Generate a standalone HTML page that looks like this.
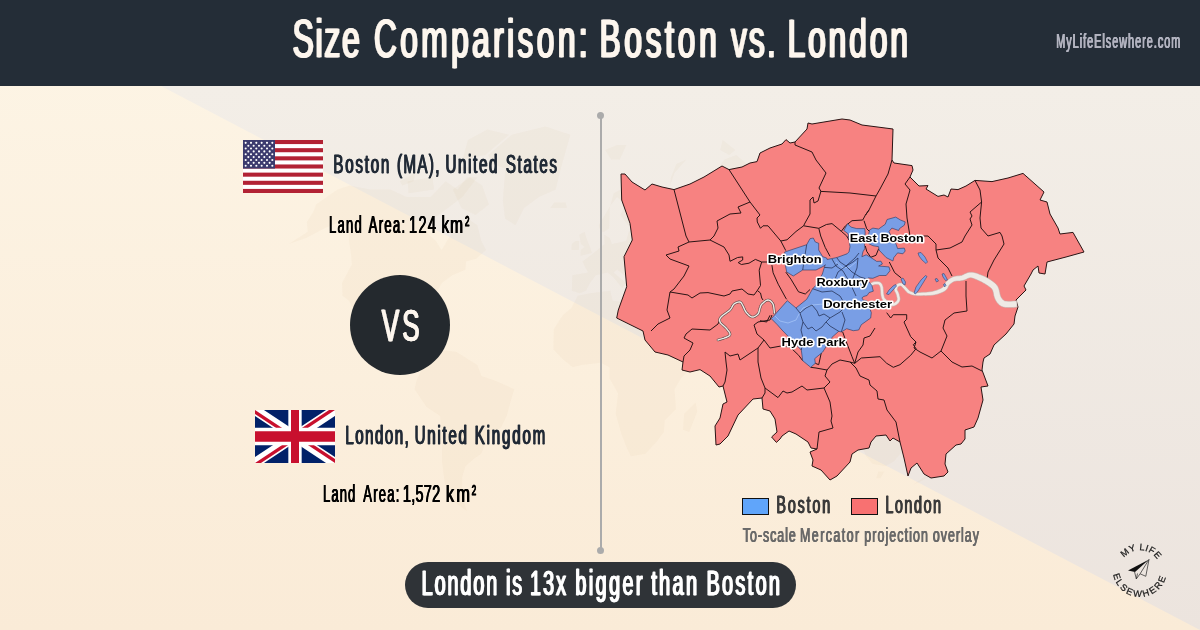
<!DOCTYPE html>
<html><head><meta charset="utf-8"><title>Size Comparison: Boston vs. London</title>
<style>
html,body{margin:0;padding:0;background:#fdf0e2;}
body{width:1200px;height:630px;overflow:hidden;font-family:"Liberation Sans",sans-serif;}
svg{display:block;will-change:transform;}
text{font-family:"Liberation Sans",sans-serif;}
.ml{font-weight:bold;font-size:11.8px;fill:#000;stroke:#fff;stroke-width:3px;paint-order:stroke;stroke-linejoin:round}
</style></head><body>
<svg width="1200" height="630" viewBox="0 0 1200 630">
<defs>
<linearGradient id="gc" x1="0" y1="0" x2="0" y2="1"><stop offset="0" stop-color="#fdf5e6"/><stop offset="1" stop-color="#faebd7"/></linearGradient>
<linearGradient id="gg" gradientUnits="userSpaceOnUse" x1="0" y1="86" x2="0" y2="630"><stop offset="0" stop-color="#f3eee7"/><stop offset="1" stop-color="#ece4de"/></linearGradient>
</defs>
<rect x="0" y="0" width="1200" height="630" fill="url(#gc)"/>
<polygon points="161,86 1200,86 1200,630" fill="url(#gg)"/>
<g fill="#c9a27a" fill-opacity="0.06" stroke="none"><polygon points="316,204.5 337.4,189.4 349.8,185.4 370.1,189.4 390.4,189.4 406.6,197.1 430.5,197.1 445.6,181.3 457.5,189.4 467,177.2 477.5,177.2 462.4,197.1 443.4,211.6 428.7,221.9 425.9,231.7 436,241 441.6,250 446.9,241 456.6,225.2 467.7,218.5 477.4,225.2 481.3,241 486.1,250 476.3,258.7 466,261.5 465.5,269.8 452.3,275.2 442,283.1 434.5,295.8 421.9,305.6 421.1,319.9 417.8,315.2 415,308 402,310.4 393.6,310.4 385.7,317.5 384,326.8 387.2,333.7 395.7,333.7 398.5,329.1 404.9,329.1 401.2,340.5 409.5,342.8 410.7,353.9 419.2,356.2 423.5,358.4 416.9,360.6 408.4,356.2 402.7,347.3 392.4,342.8 384.1,340.5 366.2,331.4 365.8,322.2 356.9,324.5 355.4,312.8 351.3,305.6 348.9,300.7 342.5,295.8 342,283.1 351.9,264.3 350.8,253 349,241 348.7,228.5 339.5,221.9 324.2,228.5 306.2,238 288.7,244.1 307.7,231.7 306.8,221.9 313.5,211.6"/><polygon points="470,177.2 482.2,185.4 488.9,204.5 475.6,215.1 461.4,208.1 452.8,189.4"/><polygon points="407.6,181.3 432.5,177.2 434.1,189.4 408.6,193.2"/><polygon points="400,181.3 415.3,172.9 413.7,181.3 402.2,185.4"/><polygon points="462.6,159.6 485.5,154.9 509.1,134.8 487.3,129.4 467.9,140"/><polygon points="449.8,168.6 471.1,166.4 472.3,170.8 454.3,171.6"/><polygon points="488.3,154.9 511.7,134.8 545.4,126.6 570.4,134.8 560.8,168.6 555.7,189.4 539,197.1 524.1,208.1 515.5,225.2 505,218.5 502.9,200.8 505.3,168.6 492.2,164.1"/><polygon points="423.5,358.4 434.8,349.5 456.2,351.7 477.3,365 481.5,376 494.6,380.4 514.2,389.2 510.3,402.5 506.6,416 501,427.5 488.9,434.5 481.2,453.7 473.9,458.7 465.4,466.3 462.2,476.8 461.9,496.2 466.8,511 454.6,502 445.1,484.9 442,461.2 442.1,444 440.3,416 426.6,407 414.6,389.2 416.5,380.4 420.8,371.6"/><polygon points="553.5,342.8 553.8,329.1 562.7,315.2 571.3,308 577.7,295.8 590,293.3 610.3,290.8 612.7,300.7 631.4,303.2 641.7,303.2 656.4,305.6 661.2,312.8 668.7,329.1 682.7,349.5 699.9,349.5 696.1,362.8 681.1,378.2 674.5,389.2 675.9,409.2 664.6,420.6 663.9,432.1 656.8,441.6 645.4,453.7 630.9,456.2 627.2,448.8 621.6,434.5 615.7,413.7 618.1,393.6 609.5,378.2 609.5,367.2 600.8,362.8 581.3,365 572.7,367.2 561.9,358.4 553.4,349.5"/><polygon points="695.6,402.5 697.2,411.5 689.2,432.1 683.1,429.8 684.2,413.7"/><polygon points="571.8,290.8 572.3,275.2 588,272.5 582.4,261.5 593.7,253 604.6,244.1 604.2,234.8 609.8,238 611.9,244.1 626.2,241 628.8,231.7 638.5,225.2 628.1,225.2 620.3,215.1 625.9,204.5 617.1,197.1 611.2,204.5 598.7,225.2 600.6,231.7 604.1,231.7 609.2,228.5 609.8,208.1 613.7,193.2 628.5,185.4 639.9,189.4 656.1,200.8 660.2,197.1 676.7,193.2 697.2,193.2 701,181.3 710,177.2 724.5,159.6 736.3,154.9 757.3,172.9 790.2,185.4 800,177.2 839.5,189.4 855.1,189.4 877.1,197.1 886.7,208.1 882.3,218.5 872.5,225.2 881,238 879.3,250 866,234.8 849.9,225.2 838.3,228.5 834.6,241 849.5,247.1 857.1,261.5 849.6,275.2 846,283.1 852.7,293.3 847.8,295.8 841.1,285.7 832,283.1 828.1,288.2 837.3,290.8 837.3,300.7 844.2,308 841.3,319.9 832.1,326.8 821.9,329.1 816.3,333.7 824.7,347.3 816.9,356.2 807.5,347.3 806.3,358.4 815.6,371.6 809,369.4 802,358.4 800.2,340.5 791.3,338.3 783.2,326.8 775.1,329.1 761.9,342.8 762.8,353.9 756.5,358.4 746.6,340.5 743.2,329.1 731.5,319.9 710,317.5 696.8,312.8 690,308 697.7,319.9 708.2,319.9 715.3,326.8 707.8,338.3 686.9,347.3 682.6,347.3 673,329.1 663.3,312.8 660.6,305.6 663.3,293.3 646.8,290.8 642,283.1 636.4,288.2 634.6,290.8 630,283.1 627.6,277.8 617.2,269.8 613.5,272.5 626,283.1 622.3,288.2 613.7,277.8 607.6,272.5 595.9,275.2 590,283.1 585.9,290.8 579.8,293.3"/><polygon points="580.6,255.8 591.9,253 590,247.1 586.4,238 584.7,231.7 579.3,234.8 580.9,244.1 584.5,247.1 580.7,250"/><polygon points="571.5,250 578.9,250 579.1,241 575.5,241 571.7,244.1"/><polygon points="550.4,208.1 566.9,208.1 565.7,202.6 554.3,202.6"/><polygon points="605.1,150.1 617,145.1 626.4,145.1 619.7,159.6 611.2,159.6"/><polygon points="670.1,185.4 674.4,172.9 686.3,159.6 676.3,164.1 671,177.2"/><polygon points="720.2,150.1 722.7,140 735.3,150.1 729.3,154.9"/><polygon points="790.1,168.6 798.6,164.1 809.1,168.6 800.2,172.9"/><polygon points="832.1,425.2 824.1,453.7 831.4,456.2 845.5,451.3 861.9,446.4 866.2,456.2 872.5,463.8 885.3,466.3 894.1,461.2 908.7,444 913,432.1 901.7,418.3 896.4,400.3 892,413.7 883.1,402.5 872.3,402.5 867.1,409.2 851.3,413.7"/><polygon points="858.9,303.2 867.2,298.3 876.4,295.8 872,283.1 867.3,275.2 873.6,272.5 864.2,269.8 868,283.1 867,293.3 859,298.3"/><polygon points="795.9,365 806.9,373.8 815.4,387 819.6,389.2 813.5,376 802.4,367.2"/><polygon points="826.5,373.8 843.2,360.6 848.2,373.8 841.4,384.8 828.5,382.6"/><polygon points="874.2,378.2 895.7,382.6 914.6,391.4 907.5,398.1 894.8,395.8 878.3,384.8"/><polygon points="817.4,389.2 836.6,392.5 836.5,394.7 819.3,392.5"/><polygon points="846.6,336 852.4,345 860.3,358.4 854,360.6 848.6,349.5"/><polygon points="943.9,456.2 949.2,463.8 938,471.5 924.4,479.5 912.7,484.9 924.4,476.8 934.1,471.5"/><polygon points="849.3,244.1 859.3,255.8 866.3,267.1 860.9,261.5"/><polygon points="762.9,355 767.5,360.6 764.3,362.8 762.6,358.4"/><polygon points="845.5,319.9 848.1,322.2 845.9,326.8 844.1,323.4"/><polygon points="878.4,471.5 884.3,471.5 880.3,478.2 876.3,478.2"/></g>
<rect x="0" y="0" width="1200" height="86" fill="#242d37"/>
<text transform="translate(291.78 57) scale(0.58 1)" font-size="54.5" font-weight="normal" fill="#fdf6ee" stroke="#fdf6ee" stroke-width="0.5" textLength="115.50" lengthAdjust="spacing" >Size</text><text transform="translate(292.63 57) scale(0.58 1)" font-size="54.5" font-weight="normal" fill="#fdf6ee" stroke="#fdf6ee" stroke-width="0.5" textLength="115.50" lengthAdjust="spacing" >Size</text><text transform="translate(293.48 57) scale(0.58 1)" font-size="54.5" font-weight="normal" fill="#fdf6ee" stroke="#fdf6ee" stroke-width="0.5" textLength="115.50" lengthAdjust="spacing" >Size</text><text transform="translate(373.13 57) scale(0.58 1)" font-size="54.5" font-weight="normal" fill="#fdf6ee" stroke="#fdf6ee" stroke-width="0.5" textLength="368.31" lengthAdjust="spacing" >Comparison:</text><text transform="translate(373.98 57) scale(0.58 1)" font-size="54.5" font-weight="normal" fill="#fdf6ee" stroke="#fdf6ee" stroke-width="0.5" textLength="368.31" lengthAdjust="spacing" >Comparison:</text><text transform="translate(374.83 57) scale(0.58 1)" font-size="54.5" font-weight="normal" fill="#fdf6ee" stroke="#fdf6ee" stroke-width="0.5" textLength="368.31" lengthAdjust="spacing" >Comparison:</text><text transform="translate(598.68 57) scale(0.58 1)" font-size="54.5" font-weight="normal" fill="#fdf6ee" stroke="#fdf6ee" stroke-width="0.5" textLength="201.93" lengthAdjust="spacing" >Boston</text><text transform="translate(599.53 57) scale(0.58 1)" font-size="54.5" font-weight="normal" fill="#fdf6ee" stroke="#fdf6ee" stroke-width="0.5" textLength="201.93" lengthAdjust="spacing" >Boston</text><text transform="translate(600.38 57) scale(0.58 1)" font-size="54.5" font-weight="normal" fill="#fdf6ee" stroke="#fdf6ee" stroke-width="0.5" textLength="201.93" lengthAdjust="spacing" >Boston</text><text transform="translate(730.13 57) scale(0.58 1)" font-size="54.5" font-weight="normal" fill="#fdf6ee" stroke="#fdf6ee" stroke-width="0.5" textLength="77.24" lengthAdjust="spacing" >vs.</text><text transform="translate(730.98 57) scale(0.58 1)" font-size="54.5" font-weight="normal" fill="#fdf6ee" stroke="#fdf6ee" stroke-width="0.5" textLength="77.24" lengthAdjust="spacing" >vs.</text><text transform="translate(731.83 57) scale(0.58 1)" font-size="54.5" font-weight="normal" fill="#fdf6ee" stroke="#fdf6ee" stroke-width="0.5" textLength="77.24" lengthAdjust="spacing" >vs.</text><text transform="translate(786.68 57) scale(0.58 1)" font-size="54.5" font-weight="normal" fill="#fdf6ee" stroke="#fdf6ee" stroke-width="0.5" textLength="207.62" lengthAdjust="spacing" >London</text><text transform="translate(787.53 57) scale(0.58 1)" font-size="54.5" font-weight="normal" fill="#fdf6ee" stroke="#fdf6ee" stroke-width="0.5" textLength="207.62" lengthAdjust="spacing" >London</text><text transform="translate(788.38 57) scale(0.58 1)" font-size="54.5" font-weight="normal" fill="#fdf6ee" stroke="#fdf6ee" stroke-width="0.5" textLength="207.62" lengthAdjust="spacing" >London</text>
<text transform="translate(1055.92 48) scale(0.55 1)" font-size="19.7" font-weight="normal" fill="#b3b4c0" stroke="#b3b4c0" stroke-width="0.2" textLength="225.67" lengthAdjust="spacing" >MyLifeElsewhere.com</text><text transform="translate(1056.22 48) scale(0.55 1)" font-size="19.7" font-weight="normal" fill="#b3b4c0" stroke="#b3b4c0" stroke-width="0.2" textLength="225.67" lengthAdjust="spacing" >MyLifeElsewhere.com</text><text transform="translate(1056.52 48) scale(0.55 1)" font-size="19.7" font-weight="normal" fill="#b3b4c0" stroke="#b3b4c0" stroke-width="0.2" textLength="225.67" lengthAdjust="spacing" >MyLifeElsewhere.com</text>

<!-- divider -->
<rect x="600" y="115" width="2" height="436" fill="#ababab"/>
<circle cx="600.5" cy="115.5" r="3.5" fill="#ababab"/>
<circle cx="600.5" cy="550.5" r="3.5" fill="#ababab"/>

<!-- left -->
<g transform="translate(243,140)"><rect width="80" height="53" fill="#fff"/><rect y="0.000" width="80" height="4.077" fill="#b22234"/><rect y="8.154" width="80" height="4.077" fill="#b22234"/><rect y="16.308" width="80" height="4.077" fill="#b22234"/><rect y="24.462" width="80" height="4.077" fill="#b22234"/><rect y="32.615" width="80" height="4.077" fill="#b22234"/><rect y="40.769" width="80" height="4.077" fill="#b22234"/><rect y="48.923" width="80" height="4.077" fill="#b22234"/><rect width="32" height="28.538" fill="#3c3b6e"/><circle cx="2.67" cy="2.85" r="1.05" fill="#fff"/><circle cx="8.00" cy="2.85" r="1.05" fill="#fff"/><circle cx="13.33" cy="2.85" r="1.05" fill="#fff"/><circle cx="18.67" cy="2.85" r="1.05" fill="#fff"/><circle cx="24.00" cy="2.85" r="1.05" fill="#fff"/><circle cx="29.33" cy="2.85" r="1.05" fill="#fff"/><circle cx="5.33" cy="5.71" r="1.05" fill="#fff"/><circle cx="10.67" cy="5.71" r="1.05" fill="#fff"/><circle cx="16.00" cy="5.71" r="1.05" fill="#fff"/><circle cx="21.33" cy="5.71" r="1.05" fill="#fff"/><circle cx="26.67" cy="5.71" r="1.05" fill="#fff"/><circle cx="2.67" cy="8.56" r="1.05" fill="#fff"/><circle cx="8.00" cy="8.56" r="1.05" fill="#fff"/><circle cx="13.33" cy="8.56" r="1.05" fill="#fff"/><circle cx="18.67" cy="8.56" r="1.05" fill="#fff"/><circle cx="24.00" cy="8.56" r="1.05" fill="#fff"/><circle cx="29.33" cy="8.56" r="1.05" fill="#fff"/><circle cx="5.33" cy="11.42" r="1.05" fill="#fff"/><circle cx="10.67" cy="11.42" r="1.05" fill="#fff"/><circle cx="16.00" cy="11.42" r="1.05" fill="#fff"/><circle cx="21.33" cy="11.42" r="1.05" fill="#fff"/><circle cx="26.67" cy="11.42" r="1.05" fill="#fff"/><circle cx="2.67" cy="14.27" r="1.05" fill="#fff"/><circle cx="8.00" cy="14.27" r="1.05" fill="#fff"/><circle cx="13.33" cy="14.27" r="1.05" fill="#fff"/><circle cx="18.67" cy="14.27" r="1.05" fill="#fff"/><circle cx="24.00" cy="14.27" r="1.05" fill="#fff"/><circle cx="29.33" cy="14.27" r="1.05" fill="#fff"/><circle cx="5.33" cy="17.12" r="1.05" fill="#fff"/><circle cx="10.67" cy="17.12" r="1.05" fill="#fff"/><circle cx="16.00" cy="17.12" r="1.05" fill="#fff"/><circle cx="21.33" cy="17.12" r="1.05" fill="#fff"/><circle cx="26.67" cy="17.12" r="1.05" fill="#fff"/><circle cx="2.67" cy="19.98" r="1.05" fill="#fff"/><circle cx="8.00" cy="19.98" r="1.05" fill="#fff"/><circle cx="13.33" cy="19.98" r="1.05" fill="#fff"/><circle cx="18.67" cy="19.98" r="1.05" fill="#fff"/><circle cx="24.00" cy="19.98" r="1.05" fill="#fff"/><circle cx="29.33" cy="19.98" r="1.05" fill="#fff"/><circle cx="5.33" cy="22.83" r="1.05" fill="#fff"/><circle cx="10.67" cy="22.83" r="1.05" fill="#fff"/><circle cx="16.00" cy="22.83" r="1.05" fill="#fff"/><circle cx="21.33" cy="22.83" r="1.05" fill="#fff"/><circle cx="26.67" cy="22.83" r="1.05" fill="#fff"/><circle cx="2.67" cy="25.68" r="1.05" fill="#fff"/><circle cx="8.00" cy="25.68" r="1.05" fill="#fff"/><circle cx="13.33" cy="25.68" r="1.05" fill="#fff"/><circle cx="18.67" cy="25.68" r="1.05" fill="#fff"/><circle cx="24.00" cy="25.68" r="1.05" fill="#fff"/><circle cx="29.33" cy="25.68" r="1.05" fill="#fff"/></g>
<text transform="translate(332.89 172.7) scale(0.58 1)" font-size="26.1" font-weight="normal" fill="#222b37" stroke="#222b37" stroke-width="0.25" textLength="96.53" lengthAdjust="spacing" >Boston</text><text transform="translate(333.34 172.7) scale(0.58 1)" font-size="26.1" font-weight="normal" fill="#222b37" stroke="#222b37" stroke-width="0.25" textLength="96.53" lengthAdjust="spacing" >Boston</text><text transform="translate(333.79 172.7) scale(0.58 1)" font-size="26.1" font-weight="normal" fill="#222b37" stroke="#222b37" stroke-width="0.25" textLength="96.53" lengthAdjust="spacing" >Boston</text><text transform="translate(396.56 172.7) scale(0.58 1)" font-size="26.1" font-weight="normal" fill="#222b37" stroke="#222b37" stroke-width="0.25" textLength="73.17" lengthAdjust="spacing" >(MA),</text><text transform="translate(397.01 172.7) scale(0.58 1)" font-size="26.1" font-weight="normal" fill="#222b37" stroke="#222b37" stroke-width="0.25" textLength="73.17" lengthAdjust="spacing" >(MA),</text><text transform="translate(397.46 172.7) scale(0.58 1)" font-size="26.1" font-weight="normal" fill="#222b37" stroke="#222b37" stroke-width="0.25" textLength="73.17" lengthAdjust="spacing" >(MA),</text><text transform="translate(444.99 172.7) scale(0.58 1)" font-size="26.1" font-weight="normal" fill="#222b37" stroke="#222b37" stroke-width="0.25" textLength="89.66" lengthAdjust="spacing" >United</text><text transform="translate(445.44 172.7) scale(0.58 1)" font-size="26.1" font-weight="normal" fill="#222b37" stroke="#222b37" stroke-width="0.25" textLength="89.66" lengthAdjust="spacing" >United</text><text transform="translate(445.89 172.7) scale(0.58 1)" font-size="26.1" font-weight="normal" fill="#222b37" stroke="#222b37" stroke-width="0.25" textLength="89.66" lengthAdjust="spacing" >United</text><text transform="translate(505.41 172.7) scale(0.58 1)" font-size="26.1" font-weight="normal" fill="#222b37" stroke="#222b37" stroke-width="0.25" textLength="88.12" lengthAdjust="spacing" >States</text><text transform="translate(505.86 172.7) scale(0.58 1)" font-size="26.1" font-weight="normal" fill="#222b37" stroke="#222b37" stroke-width="0.25" textLength="88.12" lengthAdjust="spacing" >States</text><text transform="translate(506.31 172.7) scale(0.58 1)" font-size="26.1" font-weight="normal" fill="#222b37" stroke="#222b37" stroke-width="0.25" textLength="88.12" lengthAdjust="spacing" >States</text>
<text transform="translate(328.74 232.7) scale(0.56 1)" font-size="23.3" font-weight="normal" fill="#000" stroke="#000" stroke-width="0.2" textLength="58.46" lengthAdjust="spacing" >Land</text><text transform="translate(329.04 232.7) scale(0.56 1)" font-size="23.3" font-weight="normal" fill="#000" stroke="#000" stroke-width="0.2" textLength="58.46" lengthAdjust="spacing" >Land</text><text transform="translate(329.34 232.7) scale(0.56 1)" font-size="23.3" font-weight="normal" fill="#000" stroke="#000" stroke-width="0.2" textLength="58.46" lengthAdjust="spacing" >Land</text><text transform="translate(368.37 232.7) scale(0.56 1)" font-size="23.3" font-weight="normal" fill="#000" stroke="#000" stroke-width="0.2" textLength="65.09" lengthAdjust="spacing" >Area:</text><text transform="translate(368.67 232.7) scale(0.56 1)" font-size="23.3" font-weight="normal" fill="#000" stroke="#000" stroke-width="0.2" textLength="65.09" lengthAdjust="spacing" >Area:</text><text transform="translate(368.97 232.7) scale(0.56 1)" font-size="23.3" font-weight="normal" fill="#000" stroke="#000" stroke-width="0.2" textLength="65.09" lengthAdjust="spacing" >Area:</text><text transform="translate(408.69 232.7) scale(0.62 1)" font-size="23.3" font-weight="normal" fill="#000" stroke="#000" stroke-width="0.2" textLength="43.45" lengthAdjust="spacing" >124</text><text transform="translate(408.99 232.7) scale(0.62 1)" font-size="23.3" font-weight="normal" fill="#000" stroke="#000" stroke-width="0.2" textLength="43.45" lengthAdjust="spacing" >124</text><text transform="translate(409.29 232.7) scale(0.62 1)" font-size="23.3" font-weight="normal" fill="#000" stroke="#000" stroke-width="0.2" textLength="43.45" lengthAdjust="spacing" >124</text><text transform="translate(441.17 232.7) scale(0.66 1)" font-size="23.3" font-weight="normal" fill="#000" stroke="#000" stroke-width="0.2" textLength="32.58" lengthAdjust="spacing" >km</text><text transform="translate(441.47 232.7) scale(0.66 1)" font-size="23.3" font-weight="normal" fill="#000" stroke="#000" stroke-width="0.2" textLength="32.58" lengthAdjust="spacing" >km</text><text transform="translate(441.77 232.7) scale(0.66 1)" font-size="23.3" font-weight="normal" fill="#000" stroke="#000" stroke-width="0.2" textLength="32.58" lengthAdjust="spacing" >km</text><text transform="translate(464.75 232.7) scale(0.56 1)" font-size="23.3" font-weight="normal" fill="#000" stroke="#000" stroke-width="0.2" textLength="21.54" lengthAdjust="spacing" >²</text><text transform="translate(465.05 232.7) scale(0.56 1)" font-size="23.3" font-weight="normal" fill="#000" stroke="#000" stroke-width="0.2" textLength="21.54" lengthAdjust="spacing" >²</text><text transform="translate(465.35 232.7) scale(0.56 1)" font-size="23.3" font-weight="normal" fill="#000" stroke="#000" stroke-width="0.2" textLength="21.54" lengthAdjust="spacing" >²</text>
<circle cx="400" cy="325" r="50" fill="#24292e"/>
<text transform="translate(381.19 340.7) scale(0.58 1)" font-size="44.7" font-weight="normal" fill="#fdf6ee" stroke="#fdf6ee" stroke-width="0.4" textLength="65.09" lengthAdjust="spacing" >VS</text><text transform="translate(381.79 340.7) scale(0.58 1)" font-size="44.7" font-weight="normal" fill="#fdf6ee" stroke="#fdf6ee" stroke-width="0.4" textLength="65.09" lengthAdjust="spacing" >VS</text><text transform="translate(382.39 340.7) scale(0.58 1)" font-size="44.7" font-weight="normal" fill="#fdf6ee" stroke="#fdf6ee" stroke-width="0.4" textLength="65.09" lengthAdjust="spacing" >VS</text>
<svg x="255" y="410" width="80" height="53" viewBox="0 0 60 30" preserveAspectRatio="none">
<clipPath id="s"><path d="M0,0 v30 h60 v-30 z"/></clipPath>
<clipPath id="t"><path d="M30,15 h30 v15 z v15 h-30 z h-30 v-15 z v-15 h30 z"/></clipPath>
<g clip-path="url(#s)">
<path d="M0,0 v30 h60 v-30 z" fill="#012169"/>
<path d="M0,0 L60,30 M60,0 L0,30" stroke="#fff" stroke-width="6"/>
<path d="M0,0 L60,30 M60,0 L0,30" clip-path="url(#t)" stroke="#C8102E" stroke-width="4"/>
<path d="M30,0 v30 M0,15 h60" stroke="#fff" stroke-width="10"/>
<path d="M30,0 v30 M0,15 h60" stroke="#C8102E" stroke-width="6"/>
</g></svg>
<text transform="translate(344.90 443.7) scale(0.58 1)" font-size="26.0" font-weight="normal" fill="#222b37" stroke="#222b37" stroke-width="0.25" textLength="109.41" lengthAdjust="spacing" >London,</text><text transform="translate(345.35 443.7) scale(0.58 1)" font-size="26.0" font-weight="normal" fill="#222b37" stroke="#222b37" stroke-width="0.25" textLength="109.41" lengthAdjust="spacing" >London,</text><text transform="translate(345.80 443.7) scale(0.58 1)" font-size="26.0" font-weight="normal" fill="#222b37" stroke="#222b37" stroke-width="0.25" textLength="109.41" lengthAdjust="spacing" >London,</text><text transform="translate(414.19 443.7) scale(0.58 1)" font-size="26.0" font-weight="normal" fill="#222b37" stroke="#222b37" stroke-width="0.25" textLength="90.12" lengthAdjust="spacing" >United</text><text transform="translate(414.64 443.7) scale(0.58 1)" font-size="26.0" font-weight="normal" fill="#222b37" stroke="#222b37" stroke-width="0.25" textLength="90.12" lengthAdjust="spacing" >United</text><text transform="translate(415.09 443.7) scale(0.58 1)" font-size="26.0" font-weight="normal" fill="#222b37" stroke="#222b37" stroke-width="0.25" textLength="90.12" lengthAdjust="spacing" >United</text><text transform="translate(474.26 443.7) scale(0.58 1)" font-size="26.0" font-weight="normal" fill="#222b37" stroke="#222b37" stroke-width="0.25" textLength="121.55" lengthAdjust="spacing" >Kingdom</text><text transform="translate(474.71 443.7) scale(0.58 1)" font-size="26.0" font-weight="normal" fill="#222b37" stroke="#222b37" stroke-width="0.25" textLength="121.55" lengthAdjust="spacing" >Kingdom</text><text transform="translate(475.16 443.7) scale(0.58 1)" font-size="26.0" font-weight="normal" fill="#222b37" stroke="#222b37" stroke-width="0.25" textLength="121.55" lengthAdjust="spacing" >Kingdom</text>
<text transform="translate(322.74 502.4) scale(0.56 1)" font-size="23.3" font-weight="normal" fill="#000" stroke="#000" stroke-width="0.2" textLength="57.61" lengthAdjust="spacing" >Land</text><text transform="translate(323.04 502.4) scale(0.56 1)" font-size="23.3" font-weight="normal" fill="#000" stroke="#000" stroke-width="0.2" textLength="57.61" lengthAdjust="spacing" >Land</text><text transform="translate(323.34 502.4) scale(0.56 1)" font-size="23.3" font-weight="normal" fill="#000" stroke="#000" stroke-width="0.2" textLength="57.61" lengthAdjust="spacing" >Land</text><text transform="translate(363.02 502.4) scale(0.56 1)" font-size="23.3" font-weight="normal" fill="#000" stroke="#000" stroke-width="0.2" textLength="64.48" lengthAdjust="spacing" >Area:</text><text transform="translate(363.32 502.4) scale(0.56 1)" font-size="23.3" font-weight="normal" fill="#000" stroke="#000" stroke-width="0.2" textLength="64.48" lengthAdjust="spacing" >Area:</text><text transform="translate(363.62 502.4) scale(0.56 1)" font-size="23.3" font-weight="normal" fill="#000" stroke="#000" stroke-width="0.2" textLength="64.48" lengthAdjust="spacing" >Area:</text><text transform="translate(402.58 502.4) scale(0.62 1)" font-size="23.3" font-weight="normal" fill="#000" stroke="#000" stroke-width="0.2" textLength="60.15" lengthAdjust="spacing" >1,572</text><text transform="translate(402.88 502.4) scale(0.62 1)" font-size="23.3" font-weight="normal" fill="#000" stroke="#000" stroke-width="0.2" textLength="60.15" lengthAdjust="spacing" >1,572</text><text transform="translate(403.18 502.4) scale(0.62 1)" font-size="23.3" font-weight="normal" fill="#000" stroke="#000" stroke-width="0.2" textLength="60.15" lengthAdjust="spacing" >1,572</text><text transform="translate(445.60 502.4) scale(0.7 1)" font-size="23.3" font-weight="normal" fill="#000" stroke="#000" stroke-width="0.2" textLength="34.37" lengthAdjust="spacing" >km</text><text transform="translate(445.90 502.4) scale(0.7 1)" font-size="23.3" font-weight="normal" fill="#000" stroke="#000" stroke-width="0.2" textLength="34.37" lengthAdjust="spacing" >km</text><text transform="translate(446.20 502.4) scale(0.7 1)" font-size="23.3" font-weight="normal" fill="#000" stroke="#000" stroke-width="0.2" textLength="34.37" lengthAdjust="spacing" >km</text><text transform="translate(471.41 502.4) scale(0.56 1)" font-size="23.3" font-weight="normal" fill="#000" stroke="#000" stroke-width="0.2" textLength="12.89" lengthAdjust="spacing" >²</text><text transform="translate(471.71 502.4) scale(0.56 1)" font-size="23.3" font-weight="normal" fill="#000" stroke="#000" stroke-width="0.2" textLength="12.89" lengthAdjust="spacing" >²</text><text transform="translate(472.01 502.4) scale(0.56 1)" font-size="23.3" font-weight="normal" fill="#000" stroke="#000" stroke-width="0.2" textLength="12.89" lengthAdjust="spacing" >²</text>

<!-- map -->
<polygon points="621,174 625,174 632,182 645,190 652,184 662,187 674,189.6 690,184 704,177 722,166 729,169.6 742,167 750,163 757,161.6 760,153 770,148 782,144 786,139.6 790,143 795,142 807,129 808,123 812,124 830,121 842,119 850,120 862,125 893,129 892,160 894,163 912,165.6 913,170 910,177 919,186 928,185.6 926,189 938,196.4 944,195 948,197 951,189 958,189.6 966,186 975,180.4 992,181.6 1008,178 1023,173.4 1044,192 1040,200 1047,202 1050,214 1058,228 1060,234 1073,232.4 1075,236 1084,252 1066,257 1047,262 1045,274 1039,273 1038,266 1033,270 1031,274 1024,286 1026,290 1016,300 1018,307 1015,316 1014,324 1006,334 994,345 990,354 984,358 983,362 982,370 988,386 981,387 983,400 978,418 974,427 965,430 965,439 961,444 956,445 946,454 945,464 948,472 944,476 931,478 924,474 917,463 911,468 908,476 904,458 900,442 893,438 890,441 886,435 876,436 871,442 869,448 858,450 852,454 850,462 837,476 830,480 821,470 812,466 813,460 810,452 817,449 811,448 808,442 796,434 789,431 782,436 780,439 776.4,442.4 771.6,437 777,432 775,419 770,411 763,409 762,398 753,399 738,415 728,436 720,444 716,445 715,426 720,418 723,404 727,402 723,386 719,387 710,376 700,369.6 690,372 682,370 683,362 668,355 655,352 645,340 643,331 616.7,318 618.3,310 626.7,286.7 624,256.7 632.3,240 630,223.3 621.7,200" fill="#f78281" stroke="#2a1414" stroke-width="1" stroke-linejoin="round"/>
<polyline points="674,189.6 686,236 689,242" fill="none" stroke="#2a1414" stroke-width="1" stroke-linejoin="round"/>
<polyline points="689,242 678,247 679,251 666,255 670,259 689,266 684,276 674,289 670,292" fill="none" stroke="#2a1414" stroke-width="1" stroke-linejoin="round"/>
<polyline points="670,292 667,310 670,318 658,324 651,331" fill="none" stroke="#2a1414" stroke-width="1" stroke-linejoin="round"/>
<polyline points="729,169.6 750,202 760,215 757,218 757.3,222 760.5,228.3 763,225.8 768,225.8 780.8,241 785.8,250.6" fill="none" stroke="#2a1414" stroke-width="1" stroke-linejoin="round"/>
<polyline points="750,202 738,207 741,213 730,214 717,221 718,228 714,236 710,240" fill="none" stroke="#2a1414" stroke-width="1" stroke-linejoin="round"/>
<polyline points="689,242 710,240" fill="none" stroke="#2a1414" stroke-width="1" stroke-linejoin="round"/>
<polyline points="710,240 724,247 729,255 730,261.3 737.6,257.5 742.7,256.9 742.7,260 738.2,262.6 741.4,264.5 749,263.2 755.4,259.4 761.7,262 770,262" fill="none" stroke="#2a1414" stroke-width="1" stroke-linejoin="round"/>
<polyline points="670,292 688,295 692,298 700,293 708,292.6 724,296 730,294 732,291 742,289 748,294 754,295 757.3,290.5" fill="none" stroke="#2a1414" stroke-width="1" stroke-linejoin="round"/>
<polyline points="761.7,262 759.2,270.2 760.5,285.5 757.3,290.5 760.5,293 761.7,298 763,300" fill="none" stroke="#2a1414" stroke-width="1" stroke-linejoin="round"/>
<polyline points="795,142 795,145 812,152 816,160 826,173 819,188 821,191.4" fill="none" stroke="#2a1414" stroke-width="1" stroke-linejoin="round"/>
<polyline points="821,191.4 850,193 876,196" fill="none" stroke="#2a1414" stroke-width="1" stroke-linejoin="round"/>
<polyline points="821,191 818,201 814,203 813,197 810,200 810,214 805,223 803.6,225.8" fill="none" stroke="#2a1414" stroke-width="1" stroke-linejoin="round"/>
<polyline points="780.8,241 787,239.8 796,231.5 803.6,225.8" fill="none" stroke="#2a1414" stroke-width="1" stroke-linejoin="round"/>
<polyline points="803.6,225.8 818.8,228.3 826.4,224.5 832,223.6 841.3,231.3 845.3,226" fill="none" stroke="#2a1414" stroke-width="1" stroke-linejoin="round"/>
<polyline points="818.8,228.3 820.7,236 825.2,247.4 830,256.3" fill="none" stroke="#2a1414" stroke-width="1" stroke-linejoin="round"/>
<polyline points="841.3,231.3 846.7,236 849,240" fill="none" stroke="#2a1414" stroke-width="1" stroke-linejoin="round"/>
<polyline points="845.3,226 852,220.7 862.7,220 865.3,215.3 869,210" fill="none" stroke="#2a1414" stroke-width="1" stroke-linejoin="round"/>
<polyline points="892,160 888,174 880,189 876,196" fill="none" stroke="#2a1414" stroke-width="1" stroke-linejoin="round"/>
<polyline points="876,196 869,210 865.3,215.3" fill="none" stroke="#2a1414" stroke-width="1" stroke-linejoin="round"/>
<polyline points="864,220.7 866.7,228.7 870.7,232.7" fill="none" stroke="#2a1414" stroke-width="1" stroke-linejoin="round"/>
<polyline points="865.3,246 866.7,251.3 870.7,257.3 876,255.3 878.7,248.7" fill="none" stroke="#2a1414" stroke-width="1" stroke-linejoin="round"/>
<polyline points="889.3,262 894.7,272.7 901.3,278" fill="none" stroke="#2a1414" stroke-width="1" stroke-linejoin="round"/>
<polyline points="910,177 905,184 910,190 906,204 907,218 909,230 910,236" fill="none" stroke="#2a1414" stroke-width="1" stroke-linejoin="round"/>
<polyline points="975,180.4 980,190 981.6,202 980,218 981,228 988,236 1000,232.4 1002,236" fill="none" stroke="#2a1414" stroke-width="1" stroke-linejoin="round"/>
<polyline points="981.6,202 970,212 972,216 970,219 972,225 965,236 962,242 950,248 936,250" fill="none" stroke="#2a1414" stroke-width="1" stroke-linejoin="round"/>
<polyline points="910,236 928,236 936,244 936,250" fill="none" stroke="#2a1414" stroke-width="1" stroke-linejoin="round"/>
<polyline points="936,250 938,258 948,268 952,276" fill="none" stroke="#2a1414" stroke-width="1" stroke-linejoin="round"/>
<polyline points="1002,236 1004,244 994,260 988,272 987,279" fill="none" stroke="#2a1414" stroke-width="1" stroke-linejoin="round"/>
<polyline points="966,281 966,296 967,311 954,313 945,320 943,328 947,336 941,351" fill="none" stroke="#2a1414" stroke-width="1" stroke-linejoin="round"/>
<polyline points="941,351 952,362 962,367 972,366 982,371" fill="none" stroke="#2a1414" stroke-width="1" stroke-linejoin="round"/>
<polyline points="886.7,312.7 890.7,318 893.3,314.7 906.7,314.7 906.7,319.3 904,322 910.7,336.7 916,342" fill="none" stroke="#2a1414" stroke-width="1" stroke-linejoin="round"/>
<polyline points="916,342 914,348 920,352 932,358 941,351" fill="none" stroke="#2a1414" stroke-width="1" stroke-linejoin="round"/>
<polyline points="854.7,363.3 861.3,358 880,356.7 886.7,363.3 893.3,367.3 900,364.7 910.7,355.3 916,348.7 913.3,344.7 916,342" fill="none" stroke="#2a1414" stroke-width="1" stroke-linejoin="round"/>
<polyline points="875,328 870,336 864,338 863,345 858,352 854.7,363.3" fill="none" stroke="#2a1414" stroke-width="1" stroke-linejoin="round"/>
<polyline points="842.7,332 845.3,339.3 852,356.7 854.7,363.3 850,362" fill="none" stroke="#2a1414" stroke-width="1" stroke-linejoin="round"/>
<polyline points="726,362 727,370 725,382 723,386" fill="none" stroke="#2a1414" stroke-width="1" stroke-linejoin="round"/>
<polyline points="683,362 684,356 690,350 693,343 684,338 686,334 692,329 710,330 718,324 721,317" fill="none" stroke="#2a1414" stroke-width="1" stroke-linejoin="round"/>
<polyline points="772,315 770,320 758,322 754,325 757,334 764,340 758,348 758,362" fill="none" stroke="#2a1414" stroke-width="1" stroke-linejoin="round"/>
<polyline points="725,352 730,356 738,354 740,360 758,348" fill="none" stroke="#2a1414" stroke-width="1" stroke-linejoin="round"/>
<polyline points="725,352 726,362" fill="none" stroke="#2a1414" stroke-width="1" stroke-linejoin="round"/>
<polyline points="764,340 770,348 781,346 790,347 798.7,355.3 802.7,360.7" fill="none" stroke="#2a1414" stroke-width="1" stroke-linejoin="round"/>
<polyline points="810.7,367.3 816,368" fill="none" stroke="#2a1414" stroke-width="1" stroke-linejoin="round"/>
<polyline points="815.3,363.3 818.7,364.7 821.3,352.7" fill="none" stroke="#2a1414" stroke-width="1" stroke-linejoin="round"/>
<polyline points="760,320.7 766.7,322 770,315.3" fill="none" stroke="#2a1414" stroke-width="1" stroke-linejoin="round"/>
<polyline points="758,362 761,378 765,388 765,393 762,398" fill="none" stroke="#2a1414" stroke-width="1" stroke-linejoin="round"/>
<polyline points="765,388 778,397.6 783,391 787,393 792,392 802,386 807,390 824,388" fill="none" stroke="#2a1414" stroke-width="1" stroke-linejoin="round"/>
<polyline points="816,368 827,370 825,376 830,382 824,388" fill="none" stroke="#2a1414" stroke-width="1" stroke-linejoin="round"/>
<polyline points="824,388 830,402 832,416 831,421 833,428 819,432 817,449" fill="none" stroke="#2a1414" stroke-width="1" stroke-linejoin="round"/>
<polyline points="850,362 856,368 860,376 869,380 870,385 877,391 878,399 884,400 887,410 896,422 900,442" fill="none" stroke="#2a1414" stroke-width="1" stroke-linejoin="round"/>
<polyline points="827,370 832,364 840,360 850,362" fill="none" stroke="#2a1414" stroke-width="1" stroke-linejoin="round"/>
<polyline points="771.9,265.1 773.1,272.8 778.2,284.2 785.8,298.1 786.7,299.3" fill="none" stroke="#2a1414" stroke-width="1" stroke-linejoin="round"/>
<polyline points="785.8,272.1 790.9,279.1 798.5,291.8 805.3,294 810,289.5" fill="none" stroke="#2a1414" stroke-width="1" stroke-linejoin="round"/>
<polyline points="718,340 719,339.7 720.6,339.2 722.3,338.7 724.1,338.1 725.7,337.5 727,337 727.9,336.5 728.7,336.1 729.3,335.7 729.7,335.2 730,334.7 730,334 729.8,333.2 729.3,332.2 728.6,331.2 727.7,330.1 726.9,329 726,328 725,327 723.9,326 722.7,324.9 721.6,323.9 720.6,322.9 720,322 719.7,321.1 719.5,320.3 719.6,319.6 719.8,318.8 720.3,317.9 721,317 722.1,315.9 723.6,314.8 725.3,313.6 727.1,312.3 728.7,311.1 730,310 730.9,308.9 731.6,307.8 732.2,306.7 732.7,305.7 733.3,304.8 734,304 734.9,303.4 736,302.8 737.1,302.4 738.1,302.1 739.2,301.9 740,302 740.7,302.3 741.2,302.8 741.7,303.5 742.1,304.3 742.5,305.1 743,306 743.5,306.9 743.9,307.9 744.3,308.9 744.8,310 745.3,311 746,312 746.8,313 747.8,314 748.8,315.1 749.9,316 751,316.6 752,317 753,317 754.1,316.7 755.2,316.2 756.3,315.5 757.2,314.8 758,314 758.6,313.2 759,312.1 759.2,311.1 759.5,310 759.7,308.9 760,308 760.3,307.2 760.5,306.5 760.8,305.9 761,305.3 761.4,304.6 762,304 762.8,303.2 763.7,302.4 764.8,301.5 765.9,300.7 767,300.2 768,300 768.9,300.1 769.9,300.6 770.8,301.2 771.6,302 772.4,303 773,304 773.5,305.3 773.8,307 774,308.8 774.2,310.5 774.3,312 774.4,313" fill="none" stroke="#5a4a4a" stroke-width="2.6" stroke-linejoin="round" stroke-linecap="round"/>
<polyline points="718,340 719,339.7 720.6,339.2 722.3,338.7 724.1,338.1 725.7,337.5 727,337 727.9,336.5 728.7,336.1 729.3,335.7 729.7,335.2 730,334.7 730,334 729.8,333.2 729.3,332.2 728.6,331.2 727.7,330.1 726.9,329 726,328 725,327 723.9,326 722.7,324.9 721.6,323.9 720.6,322.9 720,322 719.7,321.1 719.5,320.3 719.6,319.6 719.8,318.8 720.3,317.9 721,317 722.1,315.9 723.6,314.8 725.3,313.6 727.1,312.3 728.7,311.1 730,310 730.9,308.9 731.6,307.8 732.2,306.7 732.7,305.7 733.3,304.8 734,304 734.9,303.4 736,302.8 737.1,302.4 738.1,302.1 739.2,301.9 740,302 740.7,302.3 741.2,302.8 741.7,303.5 742.1,304.3 742.5,305.1 743,306 743.5,306.9 743.9,307.9 744.3,308.9 744.8,310 745.3,311 746,312 746.8,313 747.8,314 748.8,315.1 749.9,316 751,316.6 752,317 753,317 754.1,316.7 755.2,316.2 756.3,315.5 757.2,314.8 758,314 758.6,313.2 759,312.1 759.2,311.1 759.5,310 759.7,308.9 760,308 760.3,307.2 760.5,306.5 760.8,305.9 761,305.3 761.4,304.6 762,304 762.8,303.2 763.7,302.4 764.8,301.5 765.9,300.7 767,300.2 768,300 768.9,300.1 769.9,300.6 770.8,301.2 771.6,302 772.4,303 773,304 773.5,305.3 773.8,307 774,308.8 774.2,310.5 774.3,312 774.4,313" fill="none" stroke="#efeae5" stroke-width="1.4" stroke-linejoin="round" stroke-linecap="round"/>
<polygon points="869.9,287.6 870.397,287.221 870.914,286.706 871.527,286.179 872.132,285.748 872.835,285.307 873.471,284.987 874.182,284.751 875.023,284.583 875.949,284.493 876.875,284.398 877.634,284.391 878.126,284.523 878.629,284.742 878.863,284.871 879.139,285.15 879.423,285.586 879.726,286.101 879.958,286.812 880.217,287.828 880.307,289.149 880.507,290.74 880.603,292.297 880.709,293.86 880.922,295.257 881.132,296.309 881.345,297.264 881.587,298.105 881.958,298.971 882.452,299.832 883.175,300.792 884.197,301.815 885.376,302.781 886.6,303.7 887.905,304.672 889.253,305.353 890.504,305.916 891.734,306.191 892.888,306.197 893.986,306.049 894.891,305.679 895.671,305.342 896.486,304.877 897.26,304.352 897.961,303.661 898.645,302.969 899.262,302.111 899.793,301.157 900.077,300.061 900.2,298.9 900.082,297.766 899.859,296.653 899.559,295.553 899.351,294.518 899.023,293.526 898.687,292.529 898.242,291.629 897.824,290.794 897.459,290.166 897.249,289.614 897.2,289.3 897.267,288.914 897.413,288.405 897.642,287.871 897.948,287.332 898.215,287.003 898.603,286.615 898.905,286.365 899.329,286.162 899.812,285.942 900.215,285.896 900.585,285.896 900.862,285.9 901.146,286.133 901.683,286.502 902.129,287.037 902.766,287.882 903.501,288.621 904.061,289.276 904.698,290.017 905.298,290.617 905.861,291.276 906.498,292.017 907.273,292.779 908.298,293.426 909.291,293.871 910.218,294.282 911.304,294.716 912.453,295.059 913.632,295.276 914.797,295.486 915.955,295.62 917.023,295.749 918.172,295.774 919.367,295.703 920.56,295.732 922.104,295.667 923.746,295.611 925.743,295.659 927.926,295.606 930.173,295.456 932.384,295.294 934.452,294.909 936.424,294.438 938.349,293.946 940.278,293.245 942.107,292.534 943.778,291.686 945.31,290.773 946.661,289.586 947.65,288.214 948.255,286.934 948.711,285.953 949.185,285.19 949.676,284.577 950.444,283.936 951.253,283.241 952.159,282.641 952.988,282.078 953.902,281.703 954.804,281.311 955.686,281.128 956.777,280.993 957.991,280.94 959.49,280.969 960.982,280.779 962.573,280.579 964.228,280.107 965.874,279.439 967.225,278.749 968.345,278.265 969.404,277.914 970.217,277.827 971.08,277.859 972.053,278.047 973.138,278.33 974.263,278.71 975.505,279.189 976.875,279.813 978.401,280.425 980.007,281.229 981.722,282.037 983.241,282.889 984.866,283.852 986.312,284.719 987.625,285.563 988.83,286.397 989.914,287.209 990.89,288.015 991.633,288.838 992.247,289.631 992.704,290.624 993.101,291.997 993.459,293.611 993.78,295.513 994.374,297.54 995.098,299.348 995.956,300.946 996.927,302.402 998.027,303.747 999.374,305.077 1001.08,306.218 1003.16,307.087 1005.6,307.486 1008.24,307.599 1011.03,307.598 1013.61,307.393 1015.68,307.295 1017.21,307.193 1016.79,300.807 1015.32,300.905 1013.19,301.007 1010.77,301.202 1008.36,301.201 1006.2,301.114 1004.84,300.913 1004.12,300.582 1003.43,300.123 1002.77,299.453 1002.07,298.598 1001.44,297.654 1000.9,296.652 1000.43,295.46 1000.02,294.087 999.741,292.389 999.299,290.403 998.696,288.376 997.753,286.369 996.567,284.762 995.31,283.385 993.886,282.191 992.57,281.203 991.175,280.237 989.688,279.281 988.134,278.348 986.359,277.311 984.478,276.363 982.593,275.571 980.799,274.775 979.125,274.187 977.695,273.611 976.137,273.09 974.662,272.67 973.147,272.353 971.52,272.141 969.783,272.173 967.996,272.486 966.255,273.135 964.775,273.851 963.526,274.561 962.372,275.093 961.427,275.421 960.218,275.621 959.11,275.831 957.809,275.86 956.223,276.007 954.714,276.272 953.196,276.689 951.898,277.297 950.612,277.922 949.441,278.759 948.347,279.559 947.356,280.464 946.324,281.423 945.415,282.61 944.689,283.847 944.145,285.066 943.75,285.986 943.339,286.614 942.69,287.227 941.622,287.914 940.293,288.666 938.722,289.355 937.051,290.054 935.376,290.562 933.548,291.091 931.816,291.506 929.827,291.744 927.674,291.994 925.657,292.141 923.654,292.189 921.896,292.333 920.44,292.468 919.233,292.497 918.028,292.626 917.177,292.651 916.245,292.58 915.203,292.514 914.168,292.324 913.147,292.141 912.296,291.884 911.382,291.518 910.509,291.129 909.702,290.774 909.127,290.421 908.702,289.983 908.139,289.324 907.502,288.583 906.902,287.983 906.339,287.324 905.699,286.579 905.034,285.918 904.471,285.163 903.717,284.298 902.854,283.667 901.938,283.1 900.815,282.904 899.985,282.904 898.988,283.058 898.071,283.438 897.295,283.835 896.597,284.385 895.985,284.997 895.452,285.668 894.958,286.529 894.587,287.395 894.333,288.286 894.2,289.3 894.351,290.386 894.741,291.434 895.176,292.206 895.558,292.971 895.913,293.671 896.177,294.474 896.449,295.282 896.641,296.247 896.941,297.347 897.118,298.234 897.2,298.9 897.123,299.539 897.007,300.043 896.738,300.489 896.355,301.031 895.839,301.539 895.34,302.048 894.914,302.323 894.329,302.658 893.709,302.921 893.214,303.151 892.712,303.203 892.066,303.209 891.496,303.084 890.547,302.647 889.495,302.128 888.4,301.3 887.224,300.419 886.203,299.585 885.425,298.808 884.948,298.168 884.642,297.629 884.413,297.095 884.255,296.536 884.068,295.691 883.878,294.743 883.691,293.54 883.597,292.103 883.493,290.46 883.293,288.851 883.183,287.372 882.842,285.988 882.474,284.899 881.977,284.014 881.461,283.25 880.737,282.529 879.971,282.058 879.074,281.677 877.966,281.409 876.725,281.402 875.651,281.507 874.577,281.617 873.418,281.849 872.329,282.213 871.365,282.693 870.468,283.252 869.673,283.821 868.886,284.494 868.403,284.979 868.1,285.2" fill="#efeae5" stroke="#b9aaa6" stroke-width="0.5" stroke-linejoin="round"/>
<polygon points="784.7,252 806.7,244.7 810,238.7 813.3,238 815.3,242 818.7,243.3 818.7,250 822.7,256.7 826.7,258 827.1,259.5 836.7,257.6 847.1,253.8 849,251.9 850,246.7 848.1,233.8 843.8,230.5 847.6,223.8 851,227.1 856.7,228.6 864.8,228.6 865.2,232.9 864.3,242.9 864.8,248.6 862.9,251.9 861.9,256.7 866.2,254.8 871,257.6 876.7,261.4 881,261.2 882.4,264 878.6,266 889,266.9 890,270.7 886.2,275.5 879.5,275.5 872.9,278.3 868.1,277.9 867.1,279.8 871.9,285.5 873.3,291.2 869,292.6 867.1,295.5 863.8,296.4 861.9,297.9 863.3,300.2 866.7,300.7 869,306 871.3,312.7 870.7,318 861.3,324.7 858.7,330 853.3,330.7 846.7,328.7 841.3,332 838.7,331.3 832,337.3 822.7,352 814.7,358.7 815.3,363.3 810.7,367.3 802.7,360.7 801.3,350 782,330 777.3,324.7 771.3,318.7 787.3,300.7 796,308 806.7,299.3 812.7,288.7 815.7,285.5 822.4,274 824.3,267.4 825.3,264.7 824,266 816,270 802.7,270 793.3,276 786.7,272 784.7,262" fill="#799ee5" stroke="#27355e" stroke-width="0.6" stroke-linejoin="round"/>
<polygon points="869.5,230 872.9,228.1 878.6,229 885.2,224.3 887.1,219.5 895.7,217.1 900.5,220 905.2,221.9 904.3,225.2 899.5,228.6 898.6,230.5 891.9,228.1 889,231.4 891,236 893,240 896,244 897.6,248.6 904.3,248.1 905.2,251 902.9,253.8 897.6,252.9 893.8,257.6 892.9,261 886.2,257.6 879,250 878.6,246.7 872.9,245.7 869,243.8 868,238" fill="#799ee5" stroke="#27355e" stroke-width="0.6" stroke-linejoin="round"/>
<polygon points="918,253 921,252.5 925,257 927.5,262 926,263.5 922,260 919,256" fill="#799ee5" stroke="#27355e" stroke-width="0.5" stroke-linejoin="round"/>
<polygon points="942,274 944,273.5 946,277 947.5,280 945.5,280.5 943,277" fill="#799ee5" stroke="#27355e" stroke-width="0.5" stroke-linejoin="round"/>
<polygon points="935,279 937,278.5 938.5,281 936.5,282" fill="#799ee5" stroke="#27355e" stroke-width="0.5" stroke-linejoin="round"/>
<polygon points="914,293 916,287 921,280 925.5,275.5 927,276.5 923,283 918,291 915.5,294" fill="#799ee5" stroke="#27355e" stroke-width="0.5" stroke-linejoin="round"/>
<polygon points="886.5,294 889,290 893,286 895.5,284.5 896.5,286 893,290 889,294.5" fill="#799ee5" stroke="#27355e" stroke-width="0.5" stroke-linejoin="round"/>
<polygon points="901,279 903,278 905.5,282 905,285 903,284" fill="#799ee5" stroke="#27355e" stroke-width="0.5" stroke-linejoin="round"/>
<polygon points="943.5,284.5 945,283.5 946,285.5 944.5,287" fill="#799ee5" stroke="#27355e" stroke-width="0.5" stroke-linejoin="round"/>
<polyline points="775,316 780,321 788,323 796,320 799,314 803,308 812,305" fill="none" stroke="#9fc0f5" stroke-width="0.9" stroke-linejoin="round"/>
<polyline points="812,305 824,304 834,306" fill="none" stroke="#9fc0f5" stroke-width="0.9" stroke-linejoin="round"/>
<polyline points="836,262 843,268 850,267 856,262" fill="none" stroke="#9fc0f5" stroke-width="0.9" stroke-linejoin="round"/>
<polyline points="806.7,244.7 805,255 802.7,270" fill="none" stroke="#1c2748" stroke-width="0.7" stroke-linejoin="round"/>
<polyline points="832,259 836,266 843,271 850,283 856,296" fill="none" stroke="#1c2748" stroke-width="0.7" stroke-linejoin="round"/>
<polyline points="836.7,257.6 840,262 846,266 853,262 858,258" fill="none" stroke="#1c2748" stroke-width="0.7" stroke-linejoin="round"/>
<polyline points="824.3,267.4 832,268 838,264" fill="none" stroke="#1c2748" stroke-width="0.7" stroke-linejoin="round"/>
<polyline points="833,284 838,272 846,266 855,258 859,253" fill="none" stroke="#1c2748" stroke-width="0.7" stroke-linejoin="round"/>
<polyline points="846,266 852,272 860,277 867,279" fill="none" stroke="#1c2748" stroke-width="0.7" stroke-linejoin="round"/>
<polyline points="858,258 857,268 853,278 856,285" fill="none" stroke="#1c2748" stroke-width="0.7" stroke-linejoin="round"/>
<polyline points="812.7,288.7 822,292 832,291 840,296 846,306" fill="none" stroke="#1c2748" stroke-width="0.7" stroke-linejoin="round"/>
<polyline points="796,308 800,313 803,322 808,329 812,327 816,331 822,327 826,322 830,326 838.7,331.3" fill="none" stroke="#1c2748" stroke-width="0.7" stroke-linejoin="round"/>
<polyline points="800,313 806,308 812,305 817,311 819,316 824,314 830,318 826,322" fill="none" stroke="#1c2748" stroke-width="0.7" stroke-linejoin="round"/>
<polyline points="830,318 840,312 846,306 852,308 858,306" fill="none" stroke="#1c2748" stroke-width="0.7" stroke-linejoin="round"/>
<polyline points="841.3,332 845,320 842,312" fill="none" stroke="#1c2748" stroke-width="0.7" stroke-linejoin="round"/>
<polyline points="803,322 801,330 803,338 801.3,350" fill="none" stroke="#1c2748" stroke-width="0.7" stroke-linejoin="round"/>
<text x="849.7" y="241.5" textLength="27.0" lengthAdjust="spacingAndGlyphs" class="ml">East</text>
<text x="880.4" y="241.5" textLength="43.2" lengthAdjust="spacingAndGlyphs" class="ml">Boston</text>
<text x="767.7" y="262.8" textLength="53.9" lengthAdjust="spacingAndGlyphs" class="ml">Brighton</text>
<text x="816.4" y="286.3" textLength="51.7" lengthAdjust="spacingAndGlyphs" class="ml">Roxbury</text>
<text x="823.2" y="308.4" textLength="68.9" lengthAdjust="spacingAndGlyphs" class="ml">Dorchester</text>
<text x="781.6" y="346.3" textLength="31.8" lengthAdjust="spacingAndGlyphs" class="ml">Hyde</text>
<text x="817.6" y="346.3" textLength="28.1" lengthAdjust="spacingAndGlyphs" class="ml">Park</text>

<!-- legend -->
<rect x="742.5" y="498.5" width="26" height="16" fill="#60a5fa" stroke="#111" stroke-width="1"/>
<text transform="translate(775.98 513) scale(0.6 1)" font-size="23.9" font-weight="normal" fill="#3b3b3b" stroke="#3b3b3b" stroke-width="0.25" textLength="89.75" lengthAdjust="spacing" >Boston</text><text transform="translate(776.38 513) scale(0.6 1)" font-size="23.9" font-weight="normal" fill="#3b3b3b" stroke="#3b3b3b" stroke-width="0.25" textLength="89.75" lengthAdjust="spacing" >Boston</text><text transform="translate(776.78 513) scale(0.6 1)" font-size="23.9" font-weight="normal" fill="#3b3b3b" stroke="#3b3b3b" stroke-width="0.25" textLength="89.75" lengthAdjust="spacing" >Boston</text>
<rect x="851.5" y="498.5" width="26" height="16" fill="#f87171" stroke="#111" stroke-width="1"/>
<text transform="translate(884.98 513) scale(0.6 1)" font-size="23.9" font-weight="normal" fill="#3b3b3b" stroke="#3b3b3b" stroke-width="0.25" textLength="92.82" lengthAdjust="spacing" >London</text><text transform="translate(885.38 513) scale(0.6 1)" font-size="23.9" font-weight="normal" fill="#3b3b3b" stroke="#3b3b3b" stroke-width="0.25" textLength="92.82" lengthAdjust="spacing" >London</text><text transform="translate(885.78 513) scale(0.6 1)" font-size="23.9" font-weight="normal" fill="#3b3b3b" stroke="#3b3b3b" stroke-width="0.25" textLength="92.82" lengthAdjust="spacing" >London</text>
<text transform="translate(742.58 541.8) scale(0.61 1)" font-size="20.4" font-weight="normal" fill="#6a6a6a" stroke="#6a6a6a" stroke-width="0.2" textLength="86.72" lengthAdjust="spacing" >To-scale</text><text transform="translate(742.88 541.8) scale(0.61 1)" font-size="20.4" font-weight="normal" fill="#6a6a6a" stroke="#6a6a6a" stroke-width="0.2" textLength="86.72" lengthAdjust="spacing" >To-scale</text><text transform="translate(743.18 541.8) scale(0.61 1)" font-size="20.4" font-weight="normal" fill="#6a6a6a" stroke="#6a6a6a" stroke-width="0.2" textLength="86.72" lengthAdjust="spacing" >To-scale</text><text transform="translate(799.74 541.8) scale(0.61 1)" font-size="20.4" font-weight="normal" fill="#6a6a6a" stroke="#6a6a6a" stroke-width="0.2" textLength="96.90" lengthAdjust="spacing" >Mercator</text><text transform="translate(800.04 541.8) scale(0.61 1)" font-size="20.4" font-weight="normal" fill="#6a6a6a" stroke="#6a6a6a" stroke-width="0.2" textLength="96.90" lengthAdjust="spacing" >Mercator</text><text transform="translate(800.34 541.8) scale(0.61 1)" font-size="20.4" font-weight="normal" fill="#6a6a6a" stroke="#6a6a6a" stroke-width="0.2" textLength="96.90" lengthAdjust="spacing" >Mercator</text><text transform="translate(863.97 541.8) scale(0.61 1)" font-size="20.4" font-weight="normal" fill="#6a6a6a" stroke="#6a6a6a" stroke-width="0.2" textLength="104.28" lengthAdjust="spacing" >projection</text><text transform="translate(864.27 541.8) scale(0.61 1)" font-size="20.4" font-weight="normal" fill="#6a6a6a" stroke="#6a6a6a" stroke-width="0.2" textLength="104.28" lengthAdjust="spacing" >projection</text><text transform="translate(864.57 541.8) scale(0.61 1)" font-size="20.4" font-weight="normal" fill="#6a6a6a" stroke="#6a6a6a" stroke-width="0.2" textLength="104.28" lengthAdjust="spacing" >projection</text><text transform="translate(932.53 541.8) scale(0.61 1)" font-size="20.4" font-weight="normal" fill="#6a6a6a" stroke="#6a6a6a" stroke-width="0.2" textLength="75.57" lengthAdjust="spacing" >overlay</text><text transform="translate(932.83 541.8) scale(0.61 1)" font-size="20.4" font-weight="normal" fill="#6a6a6a" stroke="#6a6a6a" stroke-width="0.2" textLength="75.57" lengthAdjust="spacing" >overlay</text><text transform="translate(933.13 541.8) scale(0.61 1)" font-size="20.4" font-weight="normal" fill="#6a6a6a" stroke="#6a6a6a" stroke-width="0.2" textLength="75.57" lengthAdjust="spacing" >overlay</text>

<!-- pill -->
<rect x="405" y="562" width="391" height="46" rx="23" ry="23" fill="#2f3337"/>
<text transform="translate(421.07 594.7) scale(0.57 1)" font-size="34.6" font-weight="normal" fill="#ffffff" stroke="#ffffff" stroke-width="0.35" textLength="132.54" lengthAdjust="spacing" >London</text><text transform="translate(421.67 594.7) scale(0.57 1)" font-size="34.6" font-weight="normal" fill="#ffffff" stroke="#ffffff" stroke-width="0.35" textLength="132.54" lengthAdjust="spacing" >London</text><text transform="translate(422.27 594.7) scale(0.57 1)" font-size="34.6" font-weight="normal" fill="#ffffff" stroke="#ffffff" stroke-width="0.35" textLength="132.54" lengthAdjust="spacing" >London</text><text transform="translate(505.59 594.7) scale(0.57 1)" font-size="34.6" font-weight="normal" fill="#ffffff" stroke="#ffffff" stroke-width="0.35" textLength="27.91" lengthAdjust="spacing" >is</text><text transform="translate(506.19 594.7) scale(0.57 1)" font-size="34.6" font-weight="normal" fill="#ffffff" stroke="#ffffff" stroke-width="0.35" textLength="27.91" lengthAdjust="spacing" >is</text><text transform="translate(506.79 594.7) scale(0.57 1)" font-size="34.6" font-weight="normal" fill="#ffffff" stroke="#ffffff" stroke-width="0.35" textLength="27.91" lengthAdjust="spacing" >is</text><text transform="translate(529.41 594.7) scale(0.57 1)" font-size="34.6" font-weight="normal" fill="#ffffff" stroke="#ffffff" stroke-width="0.35" textLength="63.21" lengthAdjust="spacing" >13x</text><text transform="translate(530.01 594.7) scale(0.57 1)" font-size="34.6" font-weight="normal" fill="#ffffff" stroke="#ffffff" stroke-width="0.35" textLength="63.21" lengthAdjust="spacing" >13x</text><text transform="translate(530.61 594.7) scale(0.57 1)" font-size="34.6" font-weight="normal" fill="#ffffff" stroke="#ffffff" stroke-width="0.35" textLength="63.21" lengthAdjust="spacing" >13x</text><text transform="translate(574.87 594.7) scale(0.57 1)" font-size="34.6" font-weight="normal" fill="#ffffff" stroke="#ffffff" stroke-width="0.35" textLength="117.60" lengthAdjust="spacing" >bigger</text><text transform="translate(575.47 594.7) scale(0.57 1)" font-size="34.6" font-weight="normal" fill="#ffffff" stroke="#ffffff" stroke-width="0.35" textLength="117.60" lengthAdjust="spacing" >bigger</text><text transform="translate(576.07 594.7) scale(0.57 1)" font-size="34.6" font-weight="normal" fill="#ffffff" stroke="#ffffff" stroke-width="0.35" textLength="117.60" lengthAdjust="spacing" >bigger</text><text transform="translate(650.69 594.7) scale(0.57 1)" font-size="34.6" font-weight="normal" fill="#ffffff" stroke="#ffffff" stroke-width="0.35" textLength="80.21" lengthAdjust="spacing" >than</text><text transform="translate(651.29 594.7) scale(0.57 1)" font-size="34.6" font-weight="normal" fill="#ffffff" stroke="#ffffff" stroke-width="0.35" textLength="80.21" lengthAdjust="spacing" >than</text><text transform="translate(651.89 594.7) scale(0.57 1)" font-size="34.6" font-weight="normal" fill="#ffffff" stroke="#ffffff" stroke-width="0.35" textLength="80.21" lengthAdjust="spacing" >than</text><text transform="translate(705.99 594.7) scale(0.57 1)" font-size="34.6" font-weight="normal" fill="#ffffff" stroke="#ffffff" stroke-width="0.35" textLength="128.53" lengthAdjust="spacing" >Boston</text><text transform="translate(706.59 594.7) scale(0.57 1)" font-size="34.6" font-weight="normal" fill="#ffffff" stroke="#ffffff" stroke-width="0.35" textLength="128.53" lengthAdjust="spacing" >Boston</text><text transform="translate(707.19 594.7) scale(0.57 1)" font-size="34.6" font-weight="normal" fill="#ffffff" stroke="#ffffff" stroke-width="0.35" textLength="128.53" lengthAdjust="spacing" >Boston</text>


<g id="logo">
<defs>
<path id="arcT" d="M 1119.52,570 A 20.5,20.5 0 0 1 1160.50,570"/>
<path id="arcB" d="M 1113.00,570 A 27,27 0 0 0 1167.00,570"/>
</defs>
<text font-size="9.2" fill="#1a1a1a" stroke="#1a1a1a" stroke-width="0.25" letter-spacing="0.45" text-anchor="middle" transform="rotate(3.5 1140 570)"><textPath href="#arcT" startOffset="50%">MY LIFE</textPath></text>
<text font-size="9.2" fill="#1a1a1a" stroke="#1a1a1a" stroke-width="0.25" letter-spacing="1.85" text-anchor="middle" transform="rotate(1.5 1140 570)"><textPath href="#arcB" startOffset="50%">ELSEWHERE</textPath></text>
<polygon points="1128,570.4 1149,559.4 1135,571.9" fill="#111"/>
<path d="M1149,559.4 L1145.8,576.3 L1140.1,573.8 L1136.3,578.9 L1134.6,572 M1140.1,573.8 L1149,559.4 M1136.3,578.9 L1137.5,573.5" fill="none" stroke="#222" stroke-width="0.7" stroke-linejoin="round"/>
</g>

</svg>
</body></html>
